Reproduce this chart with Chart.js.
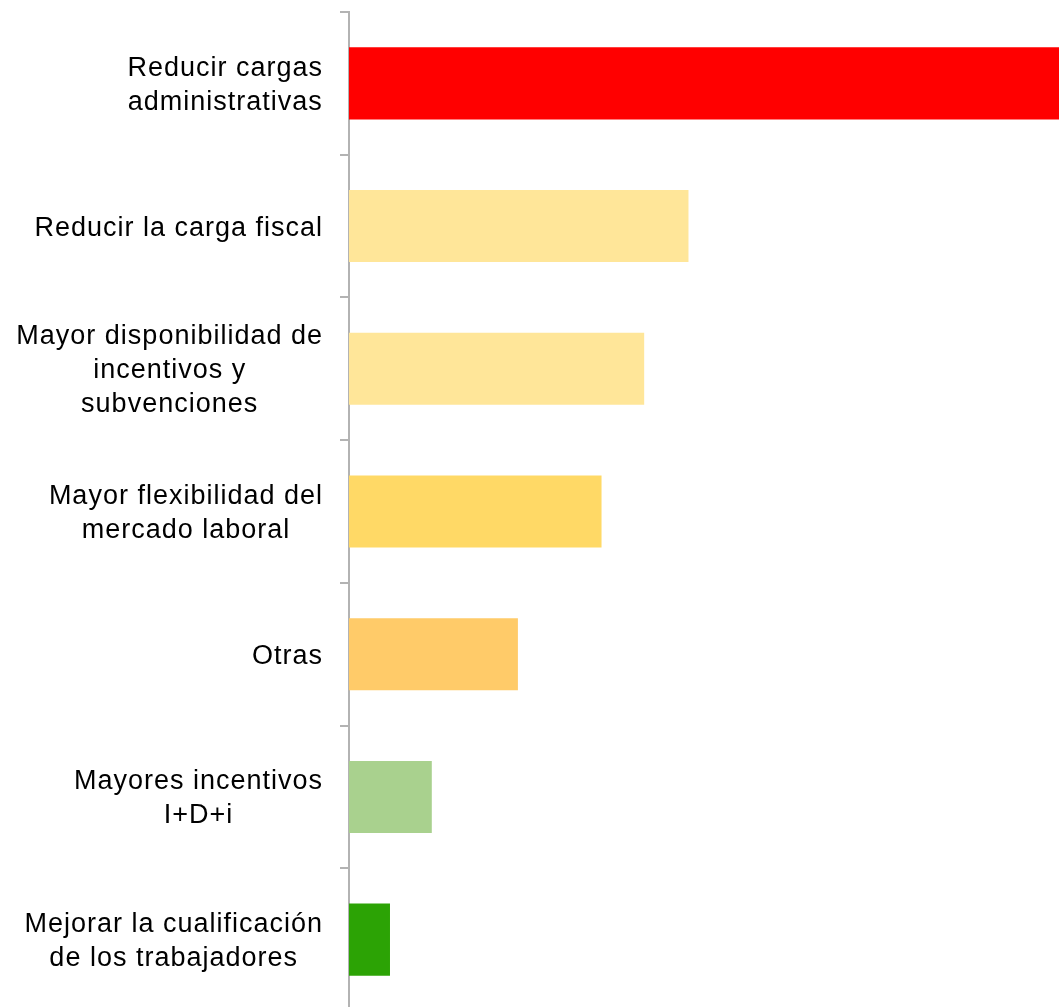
<!DOCTYPE html>
<html lang="es">
<head>
    <meta charset="UTF-8">
    <title>Medidas</title>
    <style>
        html, body { margin: 0; background: #fff; overflow: hidden; }
        /* the plot runs a few px below the window, as in the original */
        #wrap { width: 1059px; height: 1011px; }
    </style>
</head>
<body>
<div id="wrap">
    <canvas id="Chart1"></canvas>
</div>

<script src="https://cdn.jsdelivr.net/npm/chart.js"></script>
<script>
    // categories (one array of lines per label)
    const categories = [
        ['Reducir cargas', 'administrativas'],
        ['Reducir la carga fiscal'],
        ['Mayor disponibilidad de', 'incentivos y', 'subvenciones'],
        ['Mayor flexibilidad del', 'mercado laboral'],
        ['Otras'],
        ['Mayores incentivos', 'I+D+i'],
        ['Mejorar la cualificación', 'de los trabajadores']
    ];
    // values (first bar runs past the edge)
    const values = [20, 8.2, 7.13, 6.1, 4.08, 2.0, 0.99];
    const barColors = ['#ff0000', '#ffe699', '#ffe699', '#ffd966', '#ffcb69', '#a9d18e', '#2ca305'];
    const xMax = 17.15;

    const axisGrey = '#b3b3b3';
    const labelFont = '27px "Liberation Sans", Arial, sans-serif';
    const lineH = 34;

    // draws the category labels: block right aligned, lines centred inside it
    const labelPlugin = {
        id: 'blockLabels',
        afterDraw(chart) {
            const ctx = chart.ctx;
            const s = chart.scales.y;
            const right = s.right - 9 - 17;
            ctx.save();
            ctx.font = labelFont;
            ctx.letterSpacing = '1px';
            ctx.fillStyle = '#000';
            ctx.textAlign = 'center';
            ctx.textBaseline = 'middle';
            categories.forEach((lines, i) => {
                const y = s.getPixelForTick(i) + 2;
                const w = Math.max(...lines.map(l => ctx.measureText(l).width));
                const cx = right - w / 2;
                lines.forEach((l, j) => {
                    ctx.fillText(l, cx, y + (j - (lines.length - 1) / 2) * lineH);
                });
            });
            ctx.restore();
        }
    };

    const ctx1 = document.getElementById('Chart1').getContext('2d');

    const config = {
        type: 'bar',
        data: {
            labels: categories,
            datasets: [{
                data: values,
                backgroundColor: barColors,
                borderWidth: 0,
                barPercentage: 0.505,
                categoryPercentage: 1
            }]
        },
        options: {
            indexAxis: 'y',
            responsive: true,
            maintainAspectRatio: false,
            animation: false,
            layout: { padding: { top: 12, bottom: 0, left: 0, right: 0 } },
            plugins: {
                legend: { display: false },
                tooltip: { enabled: false }
            },
            scales: {
                x: {
                    display: false,
                    min: 0,
                    max: xMax
                },
                y: {
                    afterFit: (scale) => { scale.width = 349; },
                    border: { display: true, color: axisGrey, width: 2 },
                    grid: {
                        display: true,
                        drawOnChartArea: false,
                        drawTicks: true,
                        tickLength: 9,
                        color: axisGrey,
                        lineWidth: 2
                    },
                    ticks: { display: false }
                }
            }
        },
        plugins: [labelPlugin]
    };

    const chart = new Chart(ctx1, config);
</script>
</body>
</html>
